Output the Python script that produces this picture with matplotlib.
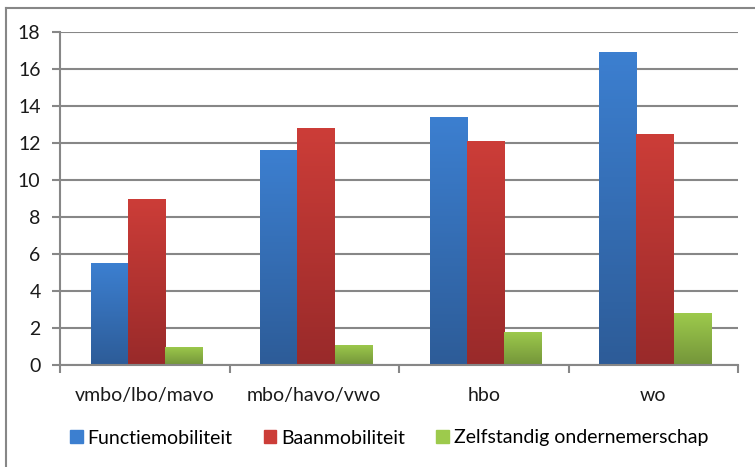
import matplotlib.pyplot as plt
import matplotlib.colors as mcolors
import numpy as np
from matplotlib.patches import Rectangle
from matplotlib.lines import Line2D

categories = ['vmbo/lbo/mavo', 'mbo/havo/vwo', 'hbo', 'wo']
series = ['Functiemobiliteit', 'Baanmobiliteit', 'Zelfstandig ondernemerschap']
functie = [5.5, 11.6, 13.4, 16.9]
baan = [9.0, 12.8, 12.1, 12.5]
zelfstandig = [1.0, 1.1, 1.8, 2.8]

# (top colour, bottom colour) per series
colors = [('#3c7fd0', '#2d5c98'), ('#cc3d38', '#992a2a'), ('#9dca4c', '#74953a')]

plt.rcParams['font.family'] = ['Lato', 'DejaVu Sans']

fig = plt.figure(figsize=(7.55, 4.67), dpi=100)
ax = fig.add_axes([60 / 755, 1 - 365 / 467, 678 / 755, 333 / 467])

x = np.arange(len(categories))
w = 0.219
values = [functie, baan, zelfstandig]
handles = []
for i, (vals, (ctop, cbot)) in enumerate(zip(values, colors)):
    bars = ax.bar(x + (i - 1) * w + 0.01, vals, w, color=cbot, zorder=2)
    cmap = mcolors.LinearSegmentedColormap.from_list('g%d' % i, [cbot, ctop])
    grad = np.linspace(0, 1, 100).reshape(-1, 1)
    for b in bars:
        x0, y0 = b.get_x(), b.get_y()
        im = ax.imshow(grad, cmap=cmap, origin='lower', aspect='auto',
                       extent=[x0, x0 + b.get_width(), y0, y0 + b.get_height()],
                       zorder=2.5)
        im.set_clip_path(b)
    handles.append(Rectangle((0, 0), 1, 1, color=ctop))

ax.set_xlim(-0.5, len(categories) - 0.5)
ax.set_ylim(0, 18)
ax.set_yticks(range(0, 19, 2))
ax.yaxis.grid(True, color='#878787', linewidth=1.5, zorder=0)
ax.set_axisbelow(True)

ax.set_xticks(np.arange(-0.5, len(categories), 1))
ax.set_xticklabels([])
ax.set_xticks(x, minor=True)
ax.set_xticklabels(categories, minor=True, fontsize=14, color='#1a1a1a')
ax.tick_params(axis='x', which='minor', length=0, pad=16)
ax.tick_params(axis='x', which='major', length=6, width=1.5, color='#878787', direction='out')
ax.tick_params(axis='y', length=6, width=1.5, color='#878787', labelsize=14,
               labelcolor='#1a1a1a', pad=8)

for s in ['top', 'right']:
    ax.spines[s].set_visible(False)
for s in ['left', 'bottom']:
    ax.spines[s].set_color('#878787')
    ax.spines[s].set_linewidth(1.5)

fig.legend(handles, series, loc='center', bbox_to_anchor=(389 / 755, 1 - 438 / 467),
           ncol=3, frameon=False, fontsize=14, handlelength=0.65, handleheight=0.65,
           handletextpad=0.25, columnspacing=1.6)

# chart frame
fig.add_artist(Line2D([5.5 / 755, 5.5 / 755], [0, 1 - 8 / 467], color='#878787', linewidth=1.5))
fig.add_artist(Line2D([5.5 / 755, 1], [1 - 8 / 467, 1 - 8 / 467], color='#878787', linewidth=1.5))

fig.savefig('out.png', dpi=100)
